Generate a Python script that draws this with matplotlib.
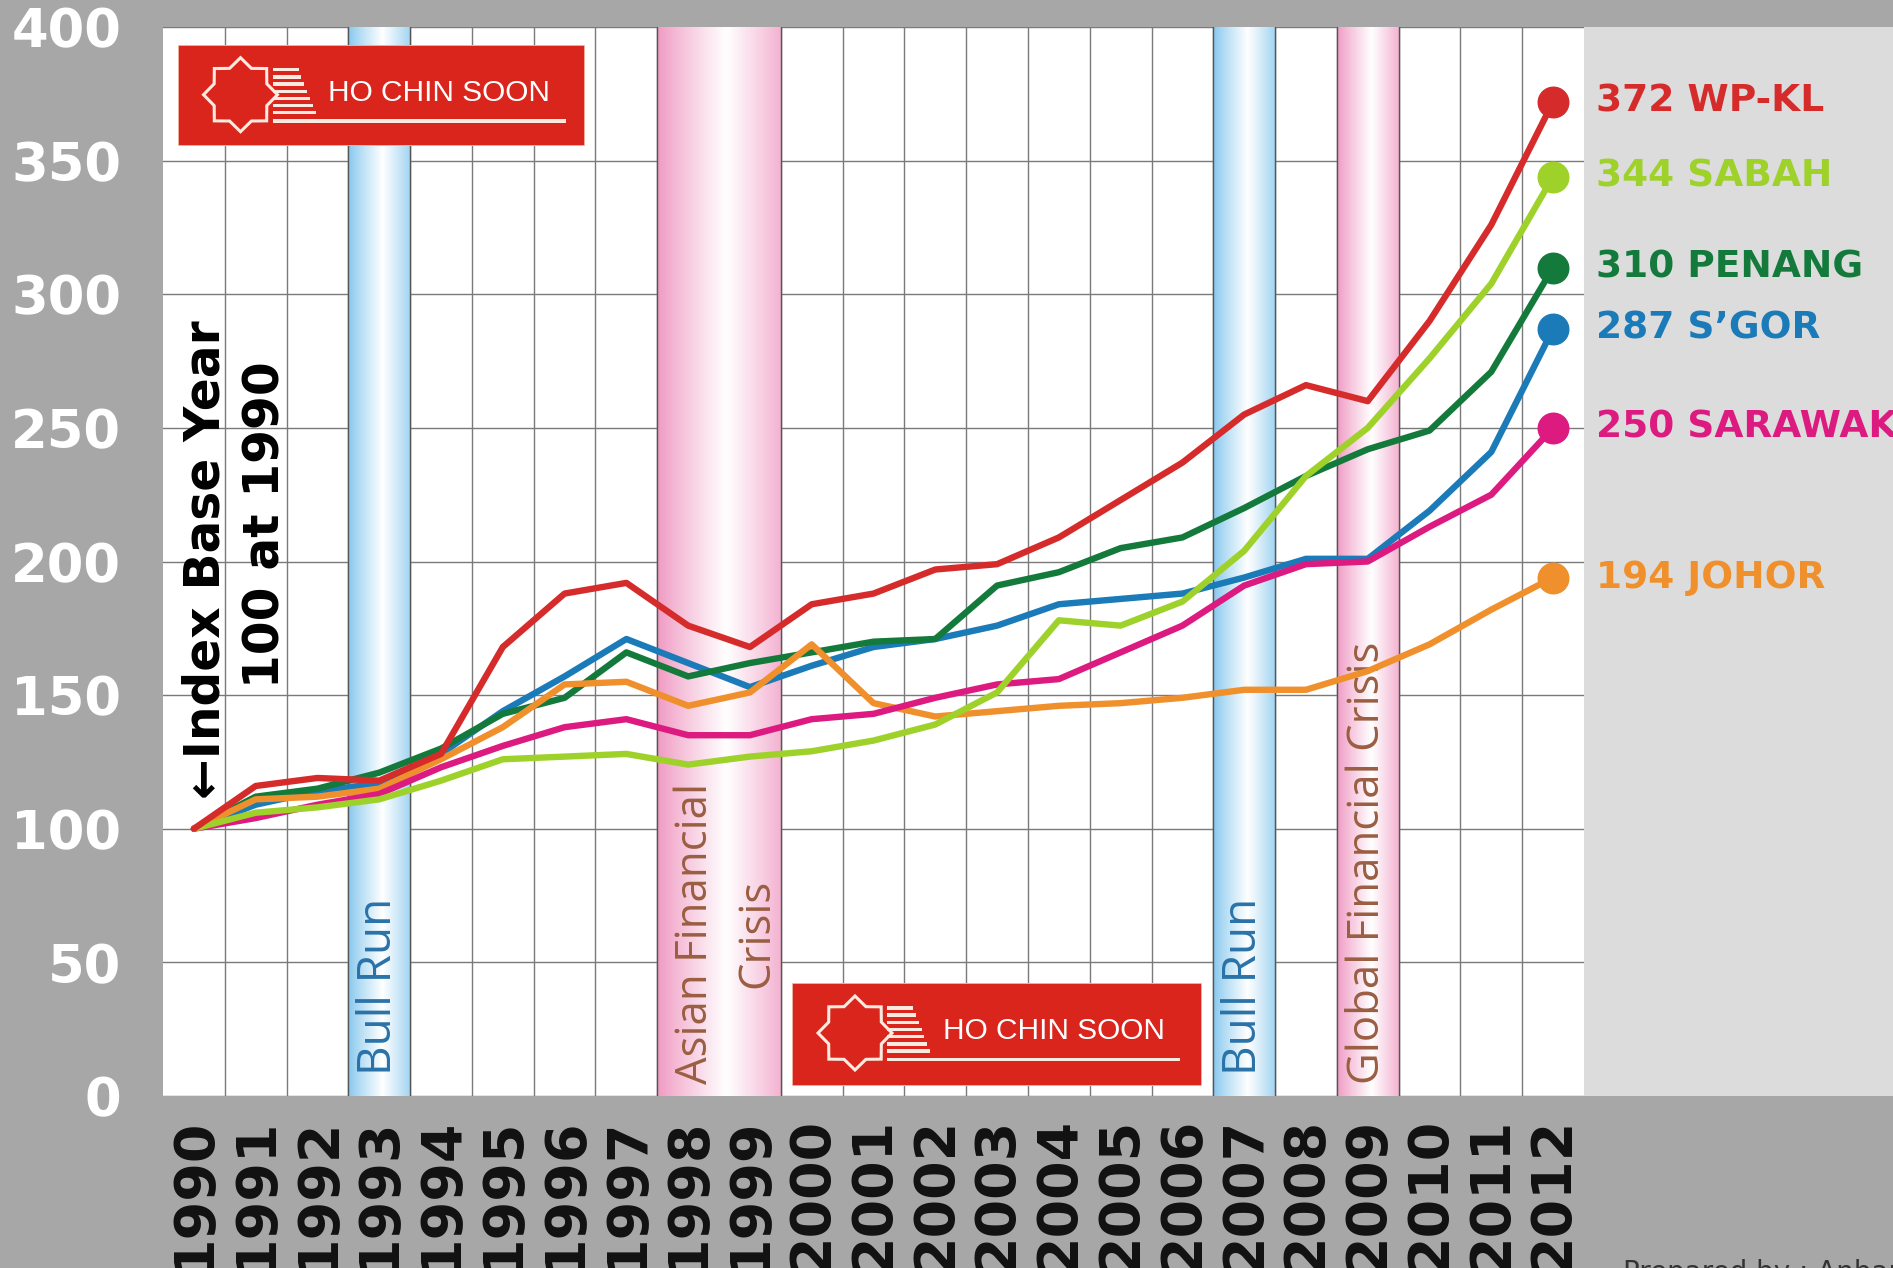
import numpy as np
import matplotlib
matplotlib.use("Agg")
import matplotlib.pyplot as plt
from matplotlib.patches import Rectangle, Polygon

# ---------------- data ----------------
years = ["1990", "1991", "1992", "1993", "1994", "1995", "1996", "1997",
         "1998", "1999", "2000", "2001", "2002", "2003", "2004", "2005",
         "2006", "2007", "2008", "2009", "2010", "2011", "2012"]

wpkl    = [100, 116, 119, 118, 128, 168, 188, 192, 176, 168, 184, 188,
           197, 199, 209, 223, 237, 255, 266, 260, 290, 326, 372]
sabah   = [100, 106, 108, 111, 118, 126, 127, 128, 124, 127, 129, 133,
           139, 151, 178, 176, 185, 204, 232, 250, 276, 304, 344]
penang  = [100, 112, 115, 121, 130, 143, 149, 166, 157, 162, 166, 170,
           171, 191, 196, 205, 209, 220, 232, 242, 249, 271, 310]
sgor    = [100, 109, 114, 117, 128, 144, 157, 171, 162, 153, 161, 168,
           171, 176, 184, 186, 188, 194, 201, 201, 219, 241, 287]
sarawak = [100, 104, 109, 113, 123, 131, 138, 141, 135, 135, 141, 143,
           149, 154, 156, 166, 176, 191, 199, 200, 213, 225, 250]
johor   = [100, 111, 112, 115, 126, 138, 154, 155, 146, 151, 169, 147,
           142, 144, 146, 147, 149, 152, 152, 159, 169, 182, 194]

series_names = ["WP-KL", "SABAH", "PENANG", "S\u2019GOR", "SARAWAK", "JOHOR"]
series_values = [wpkl, sabah, penang, sgor, sarawak, johor]
series_colors = ["#d62b2b", "#9fd12b", "#137a3c", "#1b7ab8", "#dc1a80", "#f0902c"]
draw_order = ["S\u2019GOR", "PENANG", "JOHOR", "SARAWAK", "SABAH", "WP-KL"]

yticks = [0, 50, 100, 150, 200, 250, 300, 350, 400]

# shaded periods: (label, first year, last year, kind)
bands = [("Bull Run", "1993", "1993", "blue"),
         ("Asian Financial\nCrisis", "1998", "1999", "pink"),
         ("Bull Run", "2007", "2007", "blue"),
         ("Global Financial Crisis", "2009", "2009", "pink")]

# ---------------- figure ----------------
W, H = 1893, 1268
fig = plt.figure(figsize=(W / 100, H / 100), dpi=100, facecolor="#a7a7a7")


def fx(px):
    return px / W


def fy(py):
    return 1 - py / H


# light grey right panel (behind everything)
fig.patches.append(Rectangle((fx(1584), fy(1096)), 1 - fx(1584), fy(27) - fy(1096),
                             transform=fig.transFigure, facecolor="#dcdcdc",
                             edgecolor="none", zorder=-5))

ax = fig.add_axes([fx(163), fy(1096), fx(1584) - fx(163), fy(27) - fy(1096)])
ax.set_facecolor("white")
x = np.arange(len(years))

# grid
ax.set_axisbelow(True)
ax.set_yticks(yticks)
ax.set_yticklabels([str(v) for v in yticks])
ax.set_xticks(x)
ax.set_xticklabels(years)
ax.set_xticks(x[:-1] + 0.5, minor=True)
ax.grid(True, which="major", axis="y", color="#7a7a7a", lw=1.0)
ax.grid(True, which="minor", axis="x", color="#7a7a7a", lw=1.0)
ax.tick_params(which="both", length=0)
ax.tick_params(axis="y", pad=30, labelsize=38, labelcolor="white")
ax.tick_params(axis="x", pad=15, labelsize=40, labelcolor="#111111", rotation=90)
for lab in ax.get_yticklabels() + ax.get_xticklabels():
    lab.set_fontweight("bold")
    lab.set_family("DejaVu Sans")
for s in ax.spines.values():
    s.set_visible(False)

# shaded bands with cylinder-like gradient
edge_cols = {"blue": np.array([0.52, 0.78, 0.93]), "pink": np.array([0.94, 0.60, 0.76])}
text_cols = {"blue": "#2a72a8", "pink": "#9a5e42"}
text_size = {"blue": 33, "pink": 31.5}
text_y = {"blue": 8, "pink": 4.5}
t = np.linspace(0, 1, 200)
f = np.clip(1 - np.abs(t - 0.56) / 0.56, 0, 1) ** 0.9
for label, y0, y1, kind in bands:
    i0 = years.index(y0)
    i1 = years.index(y1)
    x0, x1 = i0 - 0.5, i1 + 0.5
    ec = edge_cols[kind]
    grad = ec[None, :] + (1 - ec[None, :]) * f[:, None]
    ax.imshow(grad[None, :, :], extent=(x0, x1, 0, 400), aspect="auto",
              interpolation="bicubic", zorder=1)
    ax.plot([x0, x0], [0, 400], color="#555555", lw=1.0, zorder=1.1)
    ax.plot([x1, x1], [0, 400], color="#555555", lw=1.0, zorder=1.1)
    ax.text((x0 + x1) / 2 + (0.12 if "\n" in label else 0.0), text_y[kind], label,
            rotation=90, ha="center", va="bottom", multialignment="center",
            fontsize=text_size[kind], color=text_cols[kind],
            family=["Open Sans", "DejaVu Sans"], linespacing=1.5, zorder=1.5)
ax.set_xlim(-0.5, len(years) - 0.5)
ax.set_ylim(0, 400)

# lines
for name in draw_order:
    k = series_names.index(name)
    vals = series_values[k]
    col = series_colors[k]
    ax.plot(x, vals, color=col, lw=4.6, solid_joinstyle="round",
            solid_capstyle="round", zorder=3)
    ax.plot(x[-1], vals[-1], "o", color=col, ms=22, zorder=4, clip_on=False)
    ax.annotate(f"{vals[-1]} {name}", xy=(x[-1], vals[-1]), xytext=(31, 0),
                textcoords="offset points", ha="left", va="center",
                fontsize=27, fontweight="bold", color=col, family="DejaVu Sans",
                annotation_clip=False, zorder=6)

# index base annotation
ax.text(0.18, 200.7, "\u2190Index Base Year", rotation=90, ha="center", va="center",
        fontsize=35, fontweight="bold", color="black", family="DejaVu Sans", zorder=5)
ax.text(1.16, 213.7, "100 at 1990", rotation=90, ha="center", va="center",
        fontsize=35, fontweight="bold", color="black", family="DejaVu Sans", zorder=5)


# logos
def draw_logo(left, top, w, h):
    lax = fig.add_axes([fx(left), fy(top + h), w / W, h / H])
    lax.set_xlim(0, w)
    lax.set_ylim(h, 0)
    lax.axis("off")
    cream = "#fbeadf"
    lax.add_patch(Rectangle((0, 0), w, h, facecolor="#da251d", edgecolor="#f3c8b8", lw=1.2))
    cx, cy, R = 63, 50, 37
    r = R * 0.77
    pts = []
    for j in range(16):
        ang = np.pi / 2 + j * np.pi / 8
        rad = R if j % 2 == 0 else r
        pts.append((cx + rad * np.cos(ang), cy - rad * np.sin(ang)))
    lax.add_patch(Polygon(pts, closed=True, facecolor="#da251d", edgecolor=cream, lw=2.2))
    for yc, xe in zip(np.linspace(25, 68, 7), np.linspace(121, 138, 7)):
        lax.add_patch(Rectangle((95, yc - 1.7), xe - 95, 3.4, facecolor=cream, edgecolor="none"))
    lax.add_patch(Rectangle((95, 74.5), 293, 3.4, facecolor=cream, edgecolor="none"))
    lax.text(151, 48, "HO CHIN SOON", color="white", fontsize=21.5, ha="left", va="center",
             family="Liberation Sans")


draw_logo(177.5, 44.7, 407, 101.5)
draw_logo(792, 983, 410, 103)

fig.text(fx(1623), fy(1259), "Prepared by : Anbar", fontsize=20, color="#333333",
         ha="left", va="top", family="DejaVu Sans")

fig.savefig("out.png", dpi=100, facecolor=fig.get_facecolor())
